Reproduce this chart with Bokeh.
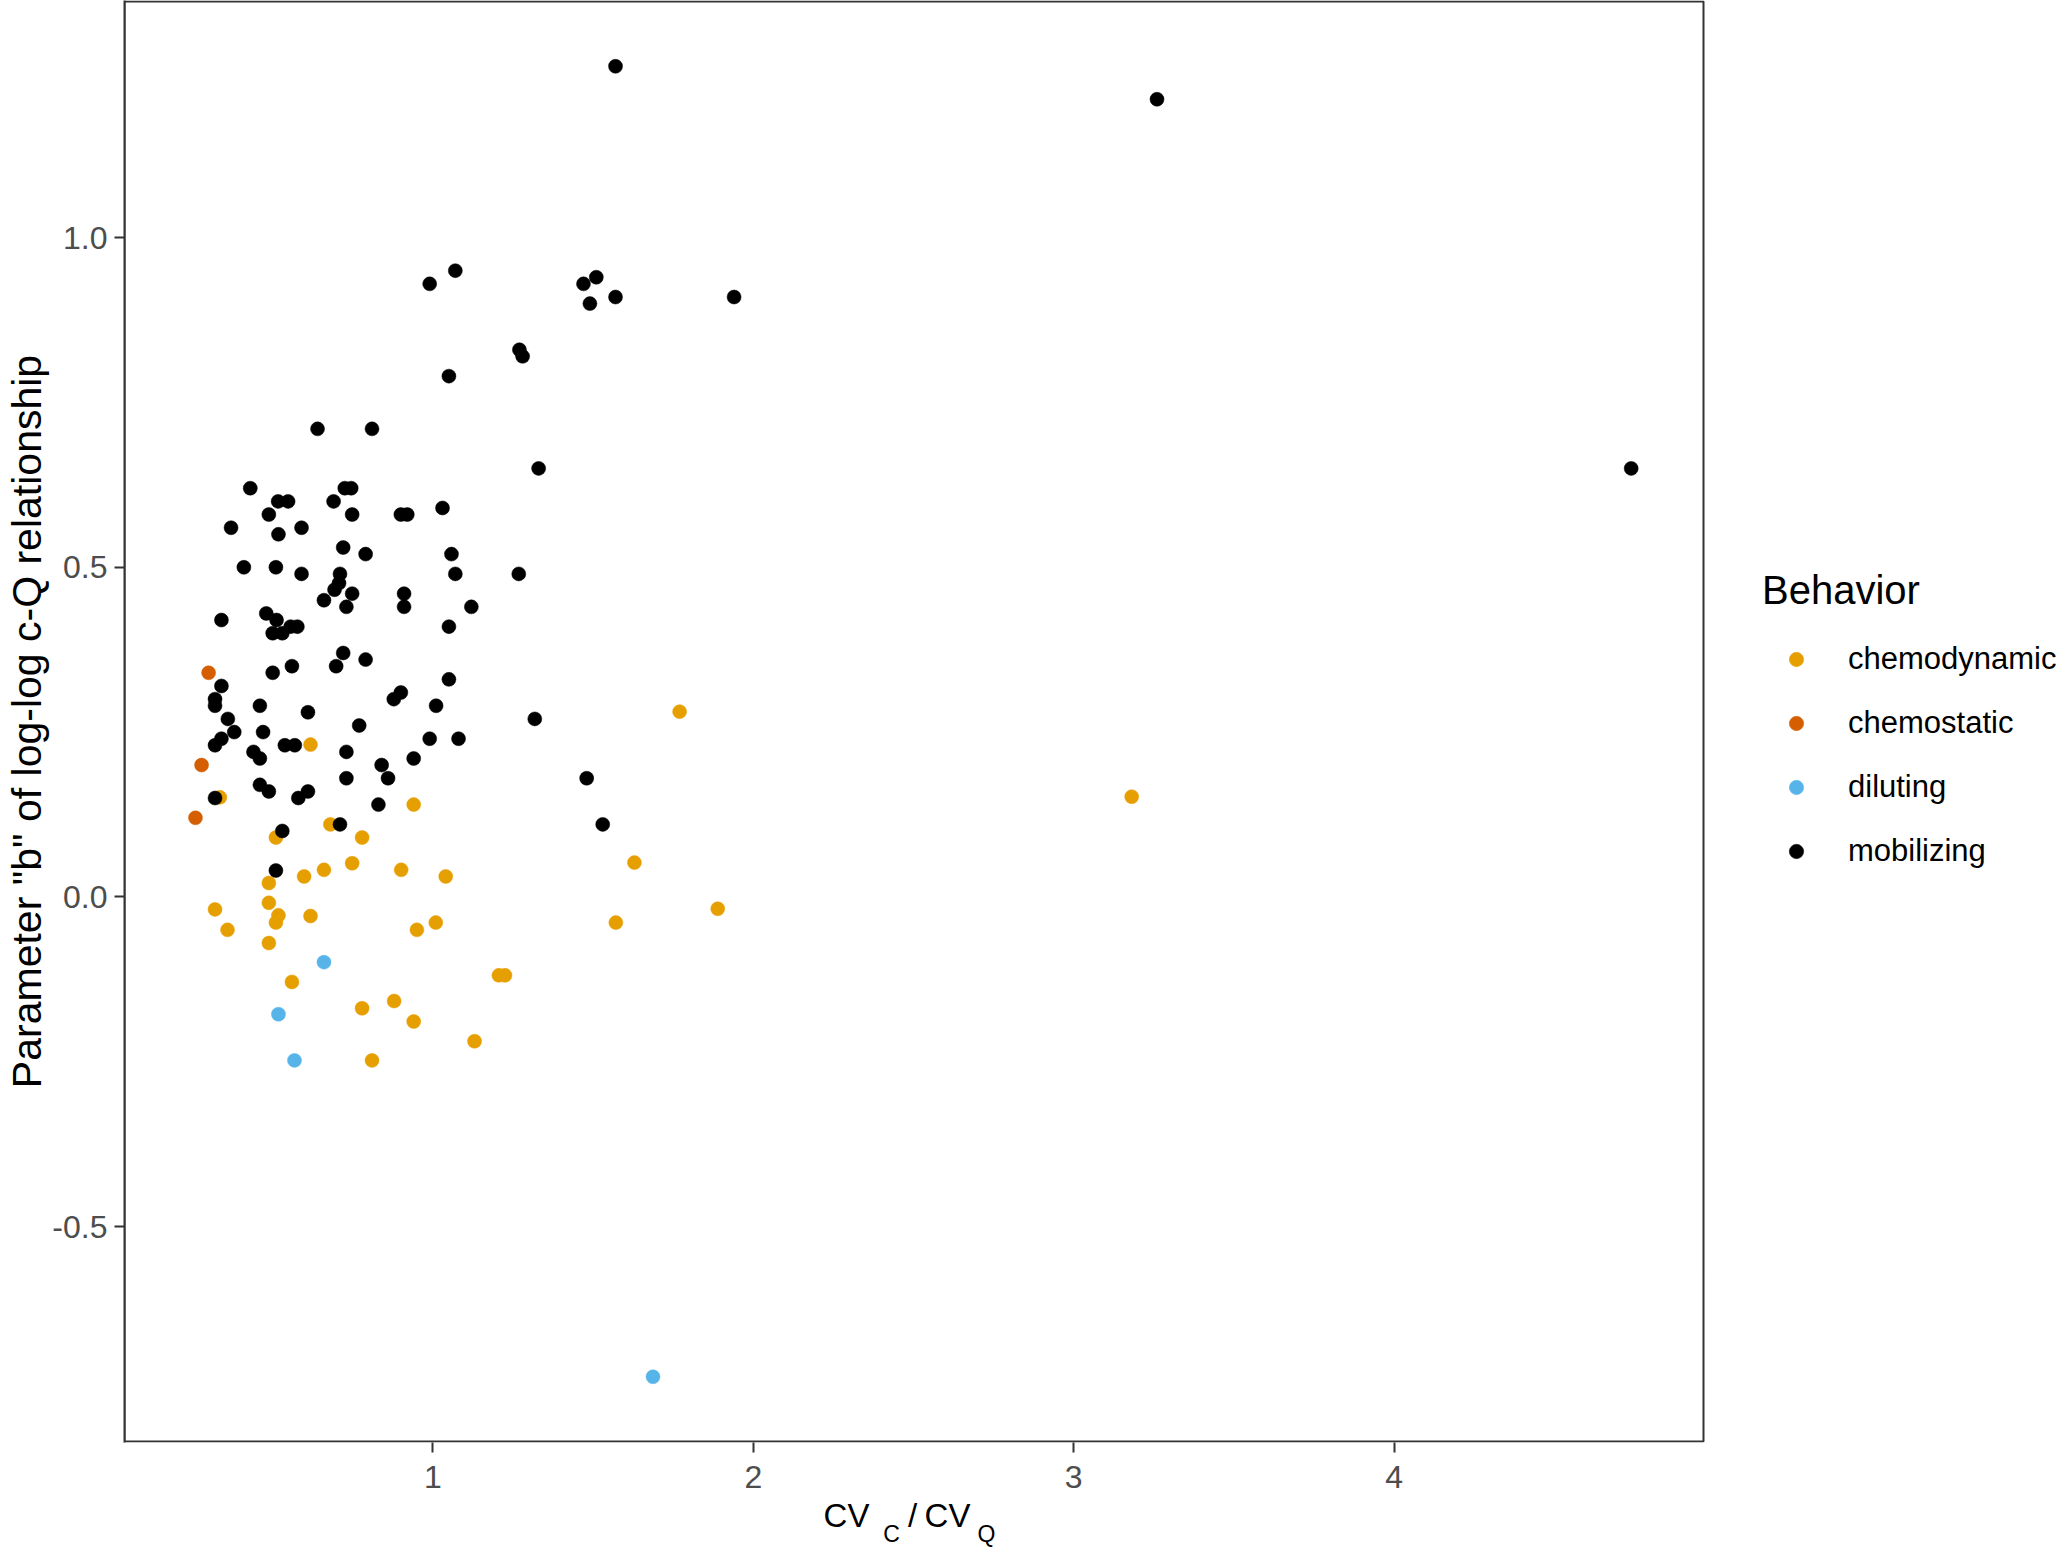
from bokeh.plotting import figure
from bokeh.models import (Range1d, FixedTicker, NumeralTickFormatter, CustomJSTickFormatter,
                          Legend, LegendItem, LinearAxis, BoxAnnotation)
from bokeh.embed import file_html
from bokeh.resources import INLINE

# ---------------- data ----------------
categories = ["chemodynamic", "chemostatic", "diluting", "mobilizing"]
colors = ["#E69F00", "#D55E00", "#56B4E9", "#000000"]

chemodynamic_x = [0.618, 0.335, 0.94, 0.68, 0.51, 0.779, 0.598, 0.66, 0.748, 0.901,
                  1.04, 0.488, 0.488, 0.32, 0.518, 0.51, 0.618, 0.359, 1.009, 0.95,
                  0.488, 1.206, 1.225, 0.56, 0.779, 0.879, 0.94, 1.13, 0.81, 1.77,
                  1.629, 1.889, 1.571, 3.181]
chemodynamic_y = [0.231, 0.151, 0.14, 0.11, 0.09, 0.09, 0.031, 0.041, 0.051, 0.041,
                  0.031, 0.021, -0.009, -0.019, -0.028, -0.039, -0.029, -0.05, -0.039, -0.05,
                  -0.07, -0.119, -0.119, -0.129, -0.169, -0.158, -0.189, -0.219, -0.248, 0.281,
                  0.052, -0.018, -0.039, 0.152]

chemostatic_x = [0.30, 0.278, 0.259]
chemostatic_y = [0.34, 0.20, 0.12]

diluting_x = [0.66, 0.518, 0.568, 1.687]
diluting_y = [-0.099, -0.178, -0.248, -0.728]

mobilizing_x = [1.05, 0.64, 0.81, 1.33, 0.43, 0.725, 0.745, 0.517, 0.548, 0.69,
                0.488, 0.748, 0.90, 0.92, 1.03, 0.37, 0.518, 0.59, 0.72, 0.79,
                1.058, 0.41, 0.51, 0.59, 0.71, 1.07, 1.268, 0.707, 0.693, 0.748,
                0.66, 0.73, 0.91, 0.91, 1.12, 0.34, 0.48, 0.512, 0.50, 0.53,
                0.556, 0.577, 1.05, 0.72, 0.698, 0.79, 0.56, 0.50, 0.34, 0.32,
                0.32, 0.46, 1.05, 0.90, 0.878, 1.01, 0.61, 0.36, 0.77, 1.318,
                0.38, 0.47, 0.34, 0.32, 0.99, 1.08, 0.538, 0.569, 0.44, 0.46,
                0.73, 0.94, 0.84, 0.86, 0.73, 0.46, 0.488, 0.61, 0.58, 0.32,
                0.83, 0.71, 0.53, 0.51, 1.48, 1.53, 1.57, 0.99, 1.07, 1.47,
                1.51, 1.49, 1.57, 1.94, 1.27, 1.28, 3.26, 4.74]
mobilizing_y = [0.79, 0.71, 0.71, 0.65, 0.62, 0.62, 0.62, 0.60, 0.60, 0.60,
                0.58, 0.58, 0.58, 0.58, 0.59, 0.56, 0.55, 0.56, 0.53, 0.52,
                0.52, 0.50, 0.50, 0.49, 0.49, 0.49, 0.49, 0.476, 0.466, 0.46,
                0.45, 0.44, 0.46, 0.44, 0.44, 0.42, 0.43, 0.42, 0.40, 0.40,
                0.41, 0.41, 0.41, 0.37, 0.35, 0.36, 0.35, 0.34, 0.32, 0.30,
                0.29, 0.29, 0.33, 0.31, 0.30, 0.29, 0.28, 0.27, 0.26, 0.27,
                0.25, 0.25, 0.24, 0.23, 0.24, 0.24, 0.23, 0.23, 0.22, 0.21,
                0.22, 0.21, 0.20, 0.18, 0.18, 0.17, 0.16, 0.16, 0.15, 0.15,
                0.14, 0.11, 0.10, 0.04, 0.18, 0.11, 1.26, 0.93, 0.95, 0.93,
                0.94, 0.90, 0.91, 0.91, 0.83, 0.82, 1.21, 0.65]

series_x = [chemodynamic_x, chemostatic_x, diluting_x, mobilizing_x]
series_y = [chemodynamic_y, chemostatic_y, diluting_y, mobilizing_y]

x_ticks = [1, 2, 3, 4]
y_ticks = [-0.5, 0.0, 0.5, 1.0]

legend_title = "Behavior"
y_title = 'Parameter "b" of log-log c-Q relationship'
# x title "CV_C/CV_Q": normal-size pieces and subscript pieces
x_title_main = ["CV", "/", "CV"]
x_title_sub = ["C", "Q"]

# ---------------- layout ----------------
FONT = "Liberation Sans"
W, H = 2067, 1549
PANEL = dict(left=124, right=1703, top=1, bottom=1441)   # panel box in page pixels


def px2x(px):
    # page pixel column -> data x
    return (px - 432.4) / 320.4 + 1


def px2y(py):
    # page pixel row -> data y
    return (896.4 - py) / 659.2


FRAME_BOTTOM = 1442
p = figure(width=W, height=H, output_backend="svg", toolbar_location=None,
           x_range=Range1d(px2x(124), px2x(W)),
           y_range=Range1d(px2y(FRAME_BOTTOM), px2y(0)),
           min_border_left=124, min_border_right=0, min_border_top=0,
           min_border_bottom=H - FRAME_BOTTOM)
p.background_fill_color = "white"
p.border_fill_color = "white"
p.xgrid.visible = False
p.ygrid.visible = False
p.outline_line_color = None

# panel border (theme_bw style box)
p.add_layout(BoxAnnotation(left=px2x(PANEL["left"]), right=px2x(PANEL["right"]),
                           top=px2y(PANEL["top"]), bottom=px2y(PANEL["bottom"]),
                           fill_color=None, fill_alpha=0,
                           line_color="#333333", line_alpha=1.0, line_width=2))

for ax, ticks, fmt, standoff in ((p.xaxis[0], x_ticks, "0", 13),
                                 (p.yaxis[0], y_ticks, "0.0", 7)):
    ax.ticker = FixedTicker(ticks=ticks)
    ax.formatter = NumeralTickFormatter(format=fmt)
    ax.axis_line_color = "#333333"
    ax.axis_line_width = 2
    ax.major_tick_line_color = "#333333"
    ax.major_tick_line_width = 2
    ax.major_tick_out = 10
    ax.major_tick_in = 0
    ax.minor_tick_line_color = None
    ax.major_label_text_font = FONT
    ax.major_label_text_font_size = "32px"
    ax.major_label_text_color = "#4D4D4D"
    ax.major_label_standoff = standoff
p.xaxis[0].axis_line_color = None

yax = p.yaxis[0]
yax.axis_label = y_title
yax.axis_label_text_font = FONT
yax.axis_label_text_font_size = "41px"
yax.axis_label_text_font_style = "normal"
yax.axis_label_text_color = "black"
yax.axis_label_standoff = -1


# x title drawn as tick labels of two bare axes stacked below the x axis
def title_axis(pieces, centers, size, standoff):
    ax = LinearAxis(ticker=FixedTicker(ticks=[px2x(c) for c in centers]),
                    formatter=CustomJSTickFormatter(args=dict(labels=pieces),
                                                    code="return labels[index];"))
    ax.axis_line_color = None
    ax.major_tick_line_color = None
    ax.minor_tick_line_color = None
    ax.major_tick_out = 0
    ax.major_tick_in = 0
    ax.major_label_standoff = standoff
    ax.major_label_text_font = FONT
    ax.major_label_text_font_size = size
    ax.major_label_text_color = "black"
    p.add_layout(ax, "below")


title_axis(x_title_main, [846, 912, 947], "33px", 6)
title_axis(x_title_sub, [891, 986], "23px", -16)

renderers = []
for name, xs, ys, c in zip(categories, series_x, series_y, colors):
    r = p.scatter(xs, ys, size=14, fill_color=c, line_color=c, line_width=0.5)
    renderers.append(r)

legend = Legend(items=[LegendItem(label=n, renderers=[r]) for n, r in zip(categories, renderers)],
                title=legend_title, location=(1762 - 124, FRAME_BOTTOM - 869))
legend.title_text_font = FONT
legend.title_text_font_size = "40px"
legend.title_text_font_style = "normal"
legend.title_text_color = "black"
legend.title_standoff = 28
legend.label_text_font = FONT
legend.label_text_font_size = "31px"
legend.label_text_color = "black"
legend.border_line_color = None
legend.background_fill_alpha = 0
legend.glyph_width = 68
legend.glyph_height = 36
legend.label_height = 36
legend.label_standoff = 18
legend.spacing = 28
legend.padding = 0
legend.margin = 0
p.add_layout(legend)

open("out.html", "w").write(file_html(p, INLINE))
